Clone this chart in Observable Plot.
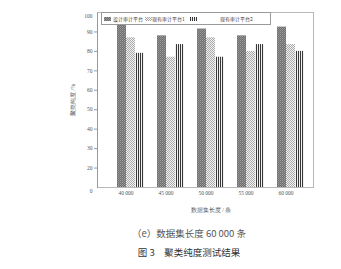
<!DOCTYPE html>
<html><head><meta charset="utf-8">
<script src="https://cdn.jsdelivr.net/npm/d3@7"></script>
<script src="https://cdn.jsdelivr.net/npm/@observablehq/plot@0.6"></script>
<style>
body{margin:0;background:#fff;width:341px;height:269px;overflow:hidden;font-family:"Noto Sans CJK SC",sans-serif}
#wrap{position:relative;width:341px;height:215px}
#wrap > svg, #wrap > figure{position:absolute;left:0;top:0;margin:0}
#legend{position:absolute;left:101px;top:12px;width:168px;height:11px;border:1px solid #9a9a9a;background:#fff;font-family:"Noto Sans CJK SC",sans-serif;font-size:5px;color:#444}
#legend span{position:absolute;top:2px;line-height:7px;white-space:nowrap}
#legend svg{position:absolute;top:3.5px}
.cap{width:304px;padding-left:37px;text-align:center;white-space:nowrap}
.cap1{position:absolute;top:226px;font-size:9.5px;color:#555}
.cap2{position:absolute;top:245px;font-size:9.5px;color:#333}
</style></head><body>
<svg width="0" height="0" style="position:absolute">
<defs>
<pattern id="pDark" patternUnits="userSpaceOnUse" width="2" height="2"><rect width="2" height="2" fill="#707070"/><rect width="1" height="1" fill="#9c9c9c"/><rect x="1" y="1" width="1" height="1" fill="#8a8a8a"/></pattern>
<pattern id="pCheck" patternUnits="userSpaceOnUse" width="2" height="2"><rect width="2" height="2" fill="#f2f2f2"/><rect width="1" height="1" fill="#aaaaaa"/><rect x="1" y="1" width="1" height="1" fill="#aaaaaa"/></pattern>
<pattern id="pStripe" patternUnits="userSpaceOnUse" width="2" height="2"><rect width="2" height="2" fill="#f0f0f0"/><rect width="1" height="2" fill="#383838"/></pattern>
</defs></svg>
<div id="wrap"><div id="legend"></div></div>
<div class="cap cap1">（e）数据集长度 60 000 条</div>
<div class="cap cap2">图 3　聚类纯度测试结果</div>
<script>
const groups = ["40 000", "45 000", "50 000", "55 000", "60 000"];
const series = ["设计审计平台", "现有审计平台1", "现有审计平台2"];
const design = [95, 88, 91.5, 88, 92.5];
const existing1 = [87, 77, 87, 80, 83.5];
const existing2 = [79, 83.5, 77, 83.5, 80];
const yTicks = [20, 30, 40, 50, 60, 70, 80, 90];
const yEnds = [10, 100];
const yMin = 10, yMax = 100;
const patterns = ["url(#pDark)", "url(#pCheck)", "url(#pStripe)"];

const values = [design, existing1, existing2];
const rows = groups.flatMap((g, i) => series.map((s, j) => ({group: g, series: s, value: values[j][i]})));

const dims = {width: 341, height: 215, marginTop: 12, marginBottom: 28, marginLeft: 97, marginRight: 28};
const style = {fontFamily: "Liberation Serif", fontSize: "5.5px", color: "#555", background: "transparent"};

// frame + y axis layer
const axes = Plot.plot({
  ...dims, style,
  y: {domain: [yMin, yMax]},
  marks: [
    Plot.frame({stroke: "#b8b8b8"}),
    Plot.frame({anchor: "left", stroke: "#999"}),
    Plot.axisY(yTicks, {tickSize: 3, tickPadding: 2, stroke: "#999", fontSize: 5.5,
      label: "聚类纯度 /%", labelAnchor: "center", labelArrow: "none", labelOffset: 26}),
    Plot.axisY(yEnds, {tickSize: 0, tickPadding: 5, dy: 4, fontSize: 5.5, label: null,
      tickFormat: d => d === yMin ? "0" : String(d)})
  ]
});

// bars layer (faceted by group)
const bars = Plot.plot({
  ...dims, style,
  fx: {domain: groups, range: [116, 305.3], paddingInner: 0.327, paddingOuter: 0},
  x: {domain: series, padding: 0, axis: null},
  y: {domain: [yMin, yMax], axis: null},
  color: {domain: series, range: patterns},
  marks: [
    Plot.barY(rows, {fx: "group", x: "series", y1: yMin, y2: "value", fill: "series"}),
    Plot.axisFx({anchor: "bottom", tickSize: 0, tickPadding: 3.7, dx: -5, fontSize: 5.5,
      label: "数据集长度 / 条", labelAnchor: "center", labelArrow: "none", labelOffset: 24})
  ]
});
const wrap = document.getElementById("wrap");
wrap.insertBefore(bars, wrap.firstChild);
wrap.insertBefore(axes, wrap.firstChild);

// legend
const lg = document.getElementById("legend");
const swX = [2, 43, 88];
const txX = [11, 50, 118];
series.forEach((s, i) => {
  const sw = document.createElementNS("http://www.w3.org/2000/svg", "svg");
  sw.setAttribute("width", 7); sw.setAttribute("height", 4);
  sw.style.left = swX[i] + "px";
  const r = document.createElementNS("http://www.w3.org/2000/svg", "rect");
  r.setAttribute("width", 7); r.setAttribute("height", 4); r.setAttribute("fill", patterns[i]);
  sw.appendChild(r); lg.appendChild(sw);
  const t = document.createElement("span");
  t.textContent = s; t.style.left = txX[i] + "px";
  lg.appendChild(t);
});
</script>
</body></html>
